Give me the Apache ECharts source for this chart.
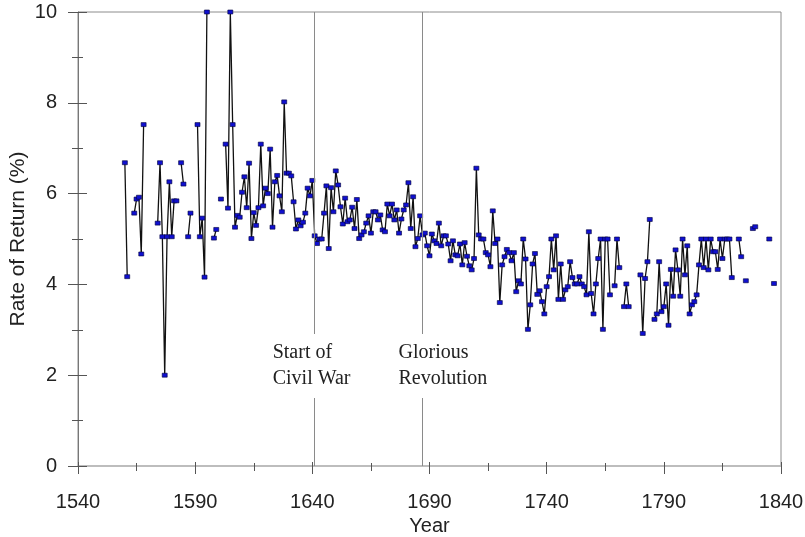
<!DOCTYPE html>
<html>
<head>
<meta charset="utf-8">
<title>Rate of Return</title>
<script src="https://cdn.jsdelivr.net/npm/echarts@6/dist/echarts.min.js"></script>
<style>
  html, body { margin: 0; padding: 0; background: #fff; }
  #main { width: 805px; height: 537px; }
</style>
</head>
<body>
<div id="main"></div>
<script>
// axis ticks
const yearTicks = [1540, 1590, 1640, 1690, 1740, 1790, 1840];
const rateTicks = [0, 2, 4, 6, 8, 10];

// one value per year starting at firstYear, null = no data
const firstYear = 1560;
const rates = [
  6.68, 4.17, null, null, 5.57, 5.88, 5.92, 4.67, 7.52, null, // 1560s
  null, null, null, null, 5.35, 6.68, 5.05, 2.0, 5.05, 6.26,  // 1570s
  5.05, 5.84, 5.84, null, 6.68, 6.21, null, 5.05, 5.57, null, // 1580s
  null, 7.52, 5.05, 5.46, 4.16, 10.0, null, null, 5.02, 5.21, // 1590s
  null, 5.88, null, 7.09, 5.68, 10.0, 7.52, 5.26, 5.52, 5.48, // 1600s
  6.03, 6.37, 5.69, 6.67, 5.01, 5.58, 5.3, 5.69, 7.09, 5.73,  // 1610s
  6.12, 6.0, 6.98, 5.26, 6.26, 6.4, 5.95, 5.6, 8.02, 6.45,    // 1620s
  6.45, 6.39, 5.82, 5.22, 5.42, 5.29, 5.37, 5.57, 6.12, 5.95, // 1630s
  6.29, 5.07, 4.9, 5.0, 5.0, 5.57, 6.17, 4.79, 6.13, 5.6,     // 1640s
  6.5, 6.19, 5.71, 5.33, 5.9, 5.38, 5.42, 5.7, 5.23, 5.87,    // 1650s
  5.01, 5.09, 5.16, 5.35, 5.51, 5.13, 5.6, 5.6, 5.42, 5.53,   // 1660s
  5.2, 5.16, 5.77, 5.51, 5.77, 5.42, 5.64, 5.13, 5.44, 5.64,  // 1670s
  5.75, 6.24, 5.23, 5.93, 4.83, 5.01, 5.51, 5.09, 5.13, 4.85, // 1680s
  4.63, 5.11, 4.96, 4.9, 5.35, 4.85, 5.07, 5.07, 4.89, 4.52,  // 1690s
  4.96, 4.65, 4.63, 4.89, 4.43, 4.92, 4.62, 4.41, 4.32, 4.57, // 1700s
  6.56, 5.09, 5.0, 5.0, 4.7, 4.65, 4.39, 5.62, 4.9, 5.0,      // 1710s
  3.6, 4.43, 4.61, 4.77, 4.7, 4.52, 4.7, 3.84, 4.08, 4.01,    // 1720s
  5.0, 4.56, 3.01, 3.55, 4.45, 4.68, 3.78, 3.86, 3.62, 3.35,  // 1730s
  3.95, 4.17, 5.0, 4.32, 5.07, 3.67, 4.45, 3.67, 3.88, 3.95,  // 1740s
  4.5, 4.15, 4.01, 4.01, 4.17, 4.01, 3.95, 3.77, 5.16, 3.8,   // 1750s
  3.35, 4.01, 4.57, 5.0, 3.01, 5.0, 5.0, 3.77, null, 3.97,    // 1760s
  5.0, 4.37, null, 3.51, 4.01, 3.51, null, null, null, null,  // 1770s
  4.21, 2.92, 4.13, 4.5, 5.43, null, 3.23, 3.35, 4.5, 3.4,    // 1780s
  3.51, 4.01, 3.1, 4.33, 3.74, 4.76, 4.32, 3.74, 5.0, 4.21,   // 1790s
  4.85, 3.35, 3.55, 3.62, 3.77, 4.43, 5.0, 4.37, 5.0, 4.32,   // 1800s
  5.0, 4.72, 4.72, 4.33, 5.0, 4.57, 5.0, 5.0, 5.0, 4.15,      // 1810s
  null, null, 5.0, 4.61, null, 4.08, null, null, 5.23, 5.27,  // 1820s
  null, null, null, null, null, 5.0, null, 4.02               // 1830s
];

// event markers
const eventYears = [1641, 1687];
const eventLabels = ["Start of\nCivil War", "Glorious\nRevolution"];

const labelFont = "Liberation Sans";
const noteFont = "Liberation Serif";

const chart = echarts.init(document.getElementById("main"));

const seriesData = rates.map((v, i) => [firstYear + i, v === null ? "-" : v]);

const xBase = {
  type: "value",
  min: yearTicks[0],
  max: yearTicks[yearTicks.length - 1],
  interval: yearTicks[1] - yearTicks[0],
  position: "bottom",
  splitLine: { show: false }
};
const yBase = {
  type: "value",
  min: rateTicks[0],
  max: rateTicks[rateTicks.length - 1],
  interval: rateTicks[1] - rateTicks[0],
  position: "left",
  splitLine: { show: false }
};

chart.setOption({
  animation: false,
  backgroundColor: "#fff",
  grid: {
    left: 78,
    right: 24,
    top: 12,
    bottom: 71,
    outerBoundsMode: "none",
    show: true,
    borderColor: "#8c8c8c",
    borderWidth: 1
  },
  xAxis: [
    Object.assign({}, xBase, {
      name: "Year",
      nameLocation: "middle",
      nameGap: 50,
      nameMoveOverlap: false,
      nameTextStyle: { fontFamily: labelFont, fontSize: 20, color: "#222" },
      axisLine: { show: true, lineStyle: { color: "#bdbdbd", width: 2 } },
      axisTick: { show: true, inside: false, length: 8, lineStyle: { color: "#555", width: 1 } },
      minorTick: { show: true, splitNumber: 2, length: 5, lineStyle: { color: "#555", width: 1 } },
      axisLabel: { margin: 26, fontFamily: labelFont, fontSize: 20, color: "#222", formatter: v => String(v) }
    }),
    Object.assign({}, xBase, {
      axisLine: { show: false },
      axisTick: { show: true, inside: true, length: 4, lineStyle: { color: "#555", width: 1 } },
      minorTick: { show: true, splitNumber: 2, length: 3, lineStyle: { color: "#555", width: 1 } },
      axisLabel: { show: false }
    })
  ],
  yAxis: [
    Object.assign({}, yBase, {
      name: "Rate of Return (%)",
      nameLocation: "middle",
      nameGap: 49,
      nameMoveOverlap: false,
      nameTextStyle: { fontFamily: labelFont, fontSize: 21, color: "#222" },
      axisLine: { show: true, lineStyle: { color: "#777", width: 1 } },
      axisTick: { show: true, inside: false, length: 10, lineStyle: { color: "#555", width: 1 } },
      minorTick: { show: true, splitNumber: 2, length: 6, lineStyle: { color: "#555", width: 1 } },
      axisLabel: { margin: 21, fontFamily: labelFont, fontSize: 20, color: "#222" }
    }),
    Object.assign({}, yBase, {
      axisLine: { show: false },
      axisTick: { show: true, inside: true, length: 9, lineStyle: { color: "#555", width: 1 } },
      minorTick: { show: true, splitNumber: 2, length: 5, lineStyle: { color: "#555", width: 1 } },
      axisLabel: { show: false }
    })
  ],
  series: [
    {
      type: "line",
      xAxisIndex: 0,
      yAxisIndex: 0,
      data: seriesData,
      connectNulls: false,
      showSymbol: true,
      showAllSymbol: true,
      symbol: "rect",
      symbolSize: [5, 4],
      itemStyle: { color: "#1010d0", borderColor: "#00003a", borderWidth: 0.6 },
      lineStyle: { color: "#111", width: 1.3 },
      markLine: {
        silent: true,
        symbol: "none",
        label: { show: false },
        lineStyle: { color: "#8a8a8a", width: 1, type: "solid" },
        data: eventYears.map(y => ({ xAxis: y }))
      },
      z: 3
    },
    {
      // invisible copy so the inner tick axes are not blank
      type: "line",
      xAxisIndex: 1,
      yAxisIndex: 1,
      data: seriesData,
      silent: true,
      showSymbol: false,
      lineStyle: { opacity: 0 },
      z: 0
    }
  ]
});

// event notes, placed from the axis scales
const noteOffsets = [-42, -24];
const graphics = eventYears.map((y, i) => {
  const p = chart.convertToPixel({ xAxisIndex: 0, yAxisIndex: 0 }, [y, 2.2]);
  return {
    type: "text",
    x: p[0] + noteOffsets[i],
    y: p[1],
    z: 10,
    style: {
      text: eventLabels[i],
      font: '20px "' + noteFont + '"',
      fill: "#222",
      lineHeight: 26,
      verticalAlign: "middle",
      align: "left",
      backgroundColor: "#fff",
      padding: [5, 2, 7, 0]
    }
  };
});
chart.setOption({ graphic: graphics });
</script>
</body>
</html>
